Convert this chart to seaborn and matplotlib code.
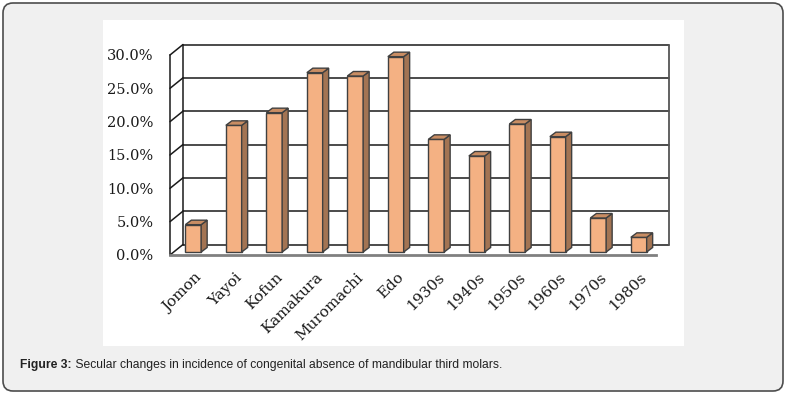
import matplotlib
matplotlib.use("Agg")
import matplotlib.pyplot as plt
import matplotlib.transforms as mtransforms
from matplotlib.patches import FancyBboxPatch, Rectangle, Polygon
import seaborn as sns
import pandas as pd

# data
periods = ["Jomon", "Yayoi", "Kofun", "Kamakura", "Muromachi", "Edo",
           "1930s", "1940s", "1950s", "1960s", "1970s", "1980s"]
absence_rate = [4.1, 19.0, 20.9, 26.9, 26.4, 29.3, 16.9, 14.4, 19.2, 17.3, 5.1, 2.2]
y_ticks = [0, 5, 10, 15, 20, 25, 30]
y_tick_labels = ["0.0%", "5.0%", "10.0%", "15.0%", "20.0%", "25.0%", "30.0%"]
caption_bold = "Figure 3:"
caption_text = " Secular changes in incidence of congenital absence of mandibular third molars."

W, H = 787, 395
front_col = "#F4B183"
side_col = "#A37453"
top_col = "#C98D63"
edge_col = "#404040"

sns.set_style("white")
plt.rcParams["font.family"] = ["DejaVu Serif"]

fig = plt.figure(figsize=(W / 100, H / 100), dpi=100)
fig.patch.set_facecolor("white")

# outer rounded frame and white chart panel (pixel coordinates)
px = mtransforms.IdentityTransform()
frame = FancyBboxPatch((3, 4), 780, 388, boxstyle="round,pad=0,rounding_size=10",
                       transform=px, facecolor="#f0f0f0", edgecolor="#4d4d4d",
                       linewidth=1.2, zorder=-3)
fig.patches.append(frame)
panel = Rectangle((103, H - 346), 581, 326, transform=px, facecolor="white",
                  edgecolor="none", zorder=-2)
fig.patches.append(panel)

ax = fig.add_axes([170 / W, (H - 255) / H, 486 / W, 200 / H])
ax.patch.set_alpha(0)

df = pd.DataFrame({"period": periods, "rate": absence_rate})
sns.barplot(data=df, x="period", y="rate", color=front_col, saturation=1,
            width=0.39, edgecolor=edge_col, linewidth=1.0, ax=ax, zorder=3)

ax.set_xlim(-0.5, len(periods) - 0.5)
ax.set_ylim(0, 30)

# pixels -> data units
kx = 486 / len(periods)
ky = 200 / 30.0

# back wall offset and bar depth (in pixels)
wall_dx, wall_dy = 13 / kx, 10.5 / ky
bar_dx, bar_dy = 3 / kx, 3 / ky
depth_dx, depth_dy = 6 / kx, 4.5 / ky

x_lo, x_hi = ax.get_xlim()

# back wall gridlines and side wall diagonals
for yv in y_ticks:
    ax.plot([x_lo + wall_dx, x_hi + wall_dx], [yv + wall_dy, yv + wall_dy],
            color="#1a1a1a", lw=1.1, zorder=1, clip_on=False)
    ax.plot([x_lo, x_lo + wall_dx], [yv, yv + wall_dy],
            color="#1a1a1a", lw=1.1, zorder=1, clip_on=False)
ax.plot([x_lo + wall_dx, x_lo + wall_dx], [wall_dy, 30 + wall_dy],
        color="#1a1a1a", lw=1.1, zorder=1, clip_on=False)
ax.plot([x_hi + wall_dx, x_hi + wall_dx], [wall_dy, 30 + wall_dy],
        color="#555555", lw=1.3, zorder=1, clip_on=False)

# give the bars some depth
for bar in list(ax.patches):
    x0 = bar.get_x() + bar_dx
    x1 = x0 + bar.get_width()
    h = bar.get_height()
    y0 = bar_dy
    bar.set_xy((x0, y0))
    side = Polygon([(x1, y0), (x1 + depth_dx, y0 + depth_dy),
                    (x1 + depth_dx, y0 + h + depth_dy), (x1, y0 + h)],
                   closed=True, facecolor=side_col, edgecolor=edge_col,
                   linewidth=1.0, zorder=3, clip_on=False)
    top = Polygon([(x0, y0 + h), (x0 + depth_dx, y0 + h + depth_dy),
                   (x1 + depth_dx, y0 + h + depth_dy), (x1, y0 + h)],
                  closed=True, facecolor=top_col, edgecolor=edge_col,
                  linewidth=1.0, zorder=3, clip_on=False)
    ax.add_patch(side)
    ax.add_patch(top)
    bar.set_clip_on(False)

# axes styling
for s in ["top", "right"]:
    ax.spines[s].set_visible(False)
ax.spines["left"].set_color("#1a1a1a")
ax.spines["left"].set_linewidth(1.1)
ax.spines["bottom"].set_color("#808080")
ax.spines["bottom"].set_linewidth(2.0)
ax.spines["left"].set_zorder(4)
ax.spines["bottom"].set_zorder(4)

ax.set_yticks(y_ticks)
ax.set_yticklabels(y_tick_labels)
ax.tick_params(axis="y", length=0, pad=12, labelsize=10.5, labelcolor="#1a1a1a")
ax.set_xticks(range(len(periods)))
ax.set_xticklabels(periods, rotation=45, ha="right", rotation_mode="anchor")
ax.tick_params(axis="x", length=0, pad=11, labelsize=11, labelcolor="#1a1a1a")
shift = mtransforms.ScaledTranslation(4 / 100, 0, fig.dpi_scale_trans)
for lab in ax.get_xticklabels():
    lab.set_transform(lab.get_transform() + shift)
ax.set_xlabel("")
ax.set_ylabel("")

# caption
t1 = fig.text(20 / W, (H - 371) / H, caption_bold, fontsize=8.7, fontweight="bold",
              family=["Liberation Sans"], color="#222222", ha="left", va="bottom")
ax.annotate(caption_text, xy=(1, 0), xycoords=t1, va="bottom", ha="left",
            fontsize=8.7, family=["Liberation Sans"], color="#222222",
            annotation_clip=False)

fig.savefig("out.png", dpi=100)
